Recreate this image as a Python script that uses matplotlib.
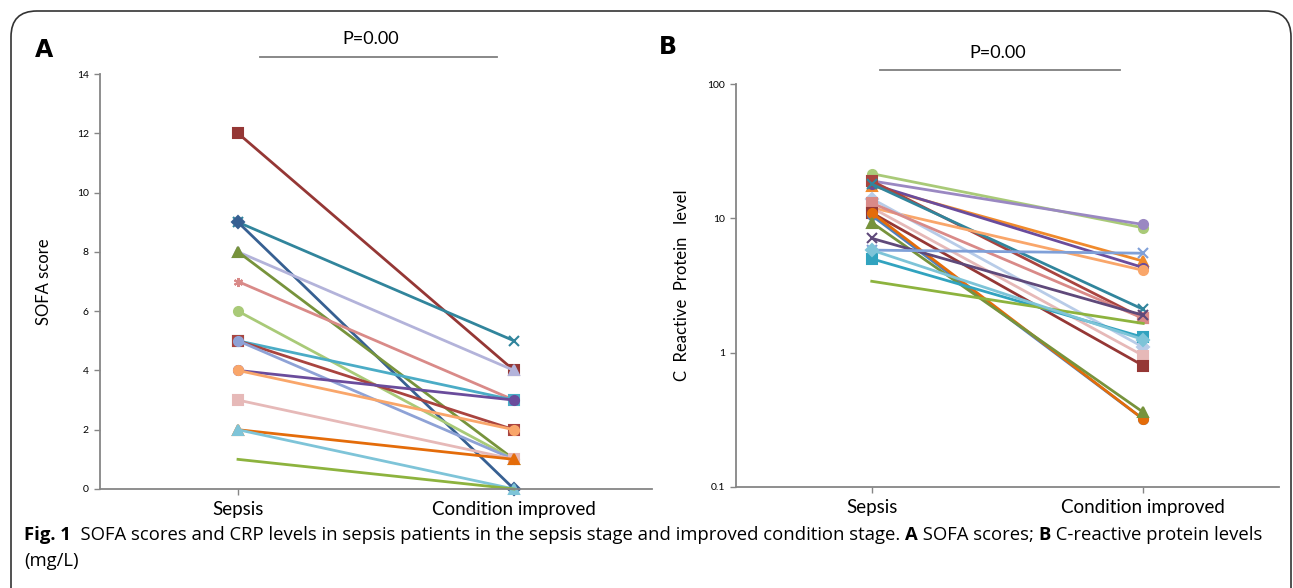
import matplotlib
matplotlib.use("Agg")
import matplotlib.pyplot as plt
from matplotlib.patches import FancyBboxPatch
from matplotlib.lines import Line2D
import matplotlib.ticker as mticker

# ---------------- data ----------------
stages = ["Sepsis", "Condition improved"]

sofa_sepsis   = [12, 9, 9, 8, 8, 7, 6, 5, 5, 5, 4, 4, 3, 2, 2, 1]
sofa_improved = [4, 5, 0, 4, 1, 3, 1, 3, 2, 1, 3, 2, 1, 1, 0, 0]

crp_sepsis   = [21.5, 19.0, 17.5, 18.0, 19.0, 18.0, 12.0, 14.0, 12.0, 13.0, 11.0, 10.5, 11.0, 9.3, 7.1, 5.8, 5.0, 3.4, 5.8]
crp_improved = [8.5, 9.0, 4.8, 4.3, 1.8, 2.1, 4.1, 1.1, 0.95, 1.8, 0.8, 0.32, 0.32, 0.36, 1.9, 5.5, 1.3, 1.65, 1.25]

sofa_ticks = [0, 2, 4, 6, 8, 10, 12, 14]
crp_ticks = [0.1, 1, 10, 100]

# ---------------- styles ----------------
sofa_colors = ["#953735", "#31859C", "#376092", "#B3B3DA", "#77933C", "#D98A88", "#A9CA78",
               "#4BACC6", "#A9443F", "#8EA2D6", "#6A4C9C", "#F9A66A", "#E6B9B8", "#E46C0A",
               "#7EC4D8", "#8DB33E"]
sofa_markers = ["s", "x", "D", "^", "^", (6, 2, 0), "o", "s", "s", "o", "o", "o", "s", "^", "^", "None"]

crp_colors = ["#A9CA78", "#9A88C2", "#F08A2C", "#6A4C9C", "#A9443F", "#31859C", "#F9A66A",
              "#B8CCE8", "#E6B9B8", "#D98A88", "#953735", "#4F81BD", "#E46C0A", "#77933C",
              "#5F497A", "#7FA0D8", "#31A3BF", "#8DB33E", "#7EC4D8"]
crp_markers = ["o", "o", "^", "o", "s", "x", "o", "D", "s", "s", "s", "o", "o", "^", "x", "x", "s", "None", "D"]

W, H = 1293, 588
fig = plt.figure(figsize=(W / 100, H / 100), dpi=100)

def px_axes(l, r, b, t):
    return fig.add_axes([l / W, (H - b) / H, (r - l) / W, (b - t) / H])

# border box
box = FancyBboxPatch((11 / W, -0.2), (1291 - 11) / W, (H - 11) / H + 0.2,
                     boxstyle="round,pad=0,rounding_size=0.02", transform=fig.transFigure,
                     fill=False, edgecolor="#333333", linewidth=1.2, mutation_aspect=W / H)
fig.patches.append(box)

axis_font = "Lato"
spine_col = "#868686"

def style_axes(ax):
    for s in ["top", "right"]:
        ax.spines[s].set_visible(False)
    for s in ["left", "bottom"]:
        ax.spines[s].set_color(spine_col)
        ax.spines[s].set_linewidth(1.3)
    ax.tick_params(axis="both", direction="out", length=4, color=spine_col, width=1.0)
    ax.tick_params(axis="y", labelsize=7.5, pad=4)
    ax.tick_params(axis="x", labelsize=13.5, pad=5)
    ax.set_xticks([0, 1])
    ax.set_xticklabels(stages, fontfamily=axis_font)
    ax.set_xlim(-0.5, 1.5)
    for lab in ax.get_yticklabels():
        lab.set_fontfamily(axis_font)

# Panel A
axA = px_axes(100, 652, 489, 74)
for s0, s1, c, m in zip(sofa_sepsis, sofa_improved, sofa_colors, sofa_markers):
    axA.plot([0, 1], [s0, s1], color=c, lw=2.0, marker=m, ms=6.5, mew=1.5,
             markeredgecolor=c, markerfacecolor=c, clip_on=False)
axA.set_ylim(0, 14)
axA.set_yticks(sofa_ticks)
style_axes(axA)
axA.set_ylabel("SOFA score", fontsize=12, fontfamily=axis_font, labelpad=18)

# Panel B
axB = px_axes(736, 1279, 487, 84)
for s0, s1, c, m in zip(crp_sepsis, crp_improved, crp_colors, crp_markers):
    axB.plot([0, 1], [s0, s1], color=c, lw=2.0, marker=m, ms=6.5, mew=1.5,
             markeredgecolor=c, markerfacecolor=c, clip_on=False)
axB.set_yscale("log")
axB.set_ylim(0.1, 100)
axB.set_yticks(crp_ticks)
axB.yaxis.set_major_formatter(mticker.FuncFormatter(lambda v, p: f"{v:g}"))
axB.yaxis.set_minor_locator(mticker.NullLocator())
style_axes(axB)
axB.set_ylabel("C  Reactive  Protein   level", fontsize=12, fontfamily=axis_font, labelpad=12)

# panel letters
fig.text(35 / W, 1 - 50 / H, "A", fontsize=17, fontweight="bold", fontfamily="DejaVu Sans", va="center")
fig.text(659 / W, 1 - 47 / H, "B", fontsize=17, fontweight="bold", fontfamily="DejaVu Sans", va="center")

# P value annotations
def pline(x0, x1, y, ty, tx):
    fig.add_artist(Line2D([x0 / W, x1 / W], [1 - y / H, 1 - y / H], color="#7F7F7F", lw=1.3))
    fig.text(tx / W, 1 - ty / H, "P=0.00", fontsize=13, fontfamily=axis_font, ha="center", va="center")

pline(260, 497, 57, 39, 371)
pline(880, 1120, 70, 53, 998)

# caption
cap_font = "Open Sans"
cap_size = 13.3
renderer = fig.canvas.get_renderer()
pieces = [("Fig. 1", "bold"),
          ("  SOFA scores and CRP levels in sepsis patients in the sepsis stage and improved condition stage. ", "normal"),
          ("A", "bold"), (" SOFA scores; ", "normal"), ("B", "bold"), (" C-reactive protein levels", "normal")]
x = 24 / W
y = 1 - 535 / H
for txt, wt in pieces:
    t = fig.text(x, y, txt, fontsize=cap_size, fontweight=wt, fontfamily=cap_font, va="center", ha="left")
    bb = t.get_window_extent(renderer=renderer)
    x += bb.width / W
fig.text(24 / W, 1 - 561 / H, "(mg/L)", fontsize=cap_size, fontfamily=cap_font, va="center", ha="left")

fig.savefig("out.png", dpi=100)
